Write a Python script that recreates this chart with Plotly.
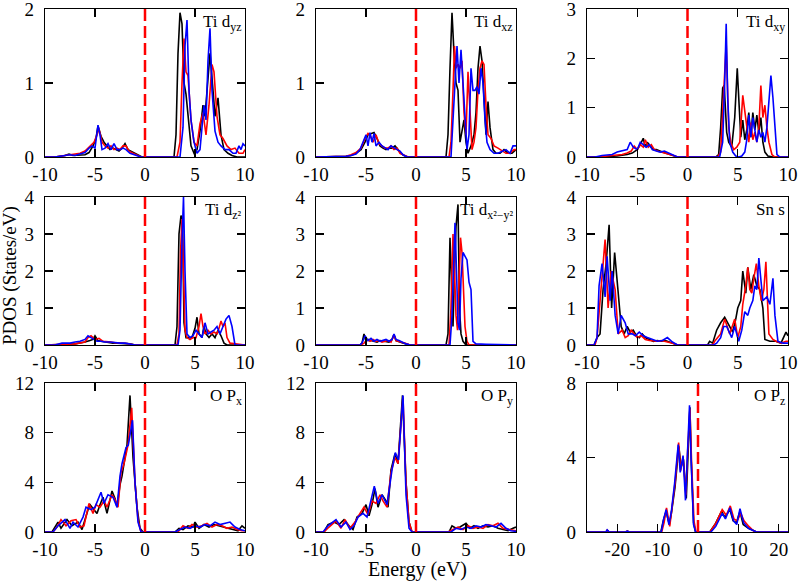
import plotly.graph_objects as go

# ---------------- data (energy in eV, PDOS in States/eV) ----------------
# Panel 1: Ti d_yz
DYZ_E_K = [-10, -9, -8, -7.6, -7.2, -6.5, -6, -5.6, -5.2, -4.9, -4.7, -4.4, -4.1, -3.8, -3.5, -3.2, -2.9, -2.6, -2.3, -2.0, -1.7, -1.4, -1.0, -0.6, -0.3,
           2.9, 3.1, 3.3, 3.5, 3.7, 3.9, 4.1, 4.3, 4.6, 4.9, 5.2, 5.5, 5.8, 6.0, 6.2, 6.5, 6.8, 7.0, 7.3, 7.6, 7.9, 8.3, 8.7, 9.2, 9.6, 10]
DYZ_V_K = [0, 0, 0.02, 0.04, 0.02, 0.02, 0.03, 0.06, 0.15, 0.25, 0.42, 0.28, 0.2, 0.15, 0.1, 0.12, 0.1, 0.08, 0.12, 0.18, 0.1, 0.08, 0.05, 0.02, 0,
           0, 0.3, 1.4, 1.95, 1.8, 1.0, 0.85, 0.6, 0.15, 0.05, 0.1, 0.35, 0.7, 0.55, 0.9, 1.4, 0.9, 0.55, 0.8, 0.3, 0.1, 0.05, 0.02, 0.0, 0.0, 0.0]
DYZ_E_R = [-10, -9, -8, -7.5, -7, -6.5, -6, -5.5, -5.1, -4.8, -4.6, -4.3, -4.0, -3.7, -3.4, -3.1, -2.8, -2.5, -2.2, -1.9, -1.6, -1.2, -0.8, -0.4,
           3.2, 3.5, 3.7, 3.9, 4.1, 4.3, 4.6, 4.9, 5.2, 5.5, 5.8, 6.1, 6.4, 6.7, 6.9, 7.2, 7.5, 7.8, 8.2, 8.6, 9.0, 9.4, 9.8, 10]
DYZ_V_R = [0, 0, 0.02, 0.03, 0.04, 0.05, 0.08, 0.15, 0.2, 0.3, 0.38, 0.2, 0.15, 0.12, 0.15, 0.1, 0.12, 0.1, 0.15, 0.15, 0.08, 0.05, 0.02, 0,
           0, 0.2, 1.0, 1.6, 1.15, 1.1, 0.5, 0.2, 0.15, 0.45, 0.6, 0.3, 0.7, 1.25, 1.15, 0.55, 0.3, 0.25, 0.15, 0.1, 0.12, 0.05, 0.05, 0.1]
DYZ_E_B = [-10, -9, -8, -7.5, -7, -6.5, -6, -5.6, -5.3, -5.0, -4.7, -4.5, -4.3, -4.0, -3.7, -3.4, -3.1, -2.8, -2.5, -2.2, -1.9, -1.5, -1.1, -0.7, -0.4,
           3.5, 3.8, 4.0, 4.2, 4.4, 4.6, 4.9, 5.2, 5.5, 5.7, 5.9, 6.1, 6.3, 6.5, 6.7, 7.0, 7.3, 7.6, 8.0, 8.4, 8.8, 9.1, 9.4, 9.6, 9.8, 10]
DYZ_V_B = [0, 0, 0.02, 0.03, 0.02, 0.04, 0.06, 0.12, 0.15, 0.12, 0.43, 0.3, 0.1, 0.12, 0.18, 0.1, 0.18, 0.1, 0.1, 0.12, 0.1, 0.05, 0.03, 0.01, 0,
           0, 0.4, 1.5, 1.85, 0.9, 0.5, 0.2, 0.05, 0.1, 0.45, 0.7, 0.5, 1.3, 1.74, 0.9, 0.35, 0.2, 0.15, 0.1, 0.1, 0.05, 0.05, 0.15, 0.1, 0.18, 0.15]

# Panel 2: Ti d_xz
DXZ_E_K = [-10, -8, -7, -6.5, -6.0, -5.5, -5.1, -4.8, -4.5, -4.2, -3.9, -3.6, -3.3, -3.0, -2.7, -2.4, -2.1, -1.8, -1.5, -1.2, -0.8,
           3.0, 3.2, 3.4, 3.6, 3.8, 4.0, 4.2, 4.4, 4.6, 4.8, 5.0, 5.2, 5.5, 5.8, 6.0, 6.2, 6.4, 6.6, 6.8, 7.0, 7.2, 7.4, 7.7, 8.0, 8.4, 8.8, 9.2, 9.6, 10]
DXZ_V_K = [0, 0, 0.01, 0.02, 0.05, 0.1, 0.2, 0.3, 0.32, 0.33, 0.25, 0.15, 0.12, 0.1, 0.12, 0.12, 0.15, 0.1, 0.05, 0.02, 0,
           0, 0.3, 1.2, 1.95, 1.4, 1.0, 0.9, 0.2, 0.35, 0.5, 0.2, 0.05, 0.15, 0.3, 0.6, 1.2, 1.5, 1.3, 0.8, 0.3, 0.75, 0.4, 0.1, 0.05, 0.05, 0.1, 0.05, 0.05, 0.1]
DXZ_E_R = [-10, -8, -7, -6.5, -6.0, -5.5, -5.1, -4.8, -4.6, -4.3, -4.0, -3.7, -3.4, -3.1, -2.8, -2.5, -2.2, -1.9, -1.6, -1.2, -0.8,
           3.3, 3.5, 3.7, 3.85, 4.0, 4.2, 4.4, 4.6, 4.8, 5.0, 5.2, 5.4, 5.6, 5.8, 6.0, 6.2, 6.4, 6.6, 6.8, 7.0, 7.2, 7.5, 7.8, 8.2, 8.6, 9.0, 9.4, 9.8, 10]
DXZ_V_R = [0, 0, 0.01, 0.03, 0.06, 0.12, 0.25, 0.32, 0.3, 0.2, 0.3, 0.18, 0.15, 0.12, 0.12, 0.15, 0.1, 0.12, 0.05, 0.02, 0,
           0, 0.2, 0.9, 1.5, 1.2, 1.25, 1.2, 1.3, 0.6, 0.3, 1.15, 0.6, 0.1, 0.2, 0.4, 0.9, 1.2, 1.3, 1.25, 0.7, 0.3, 0.25, 0.15, 0.12, 0.08, 0.05, 0.05, 0.1, 0.1]
DXZ_E_B = [-10, -8, -7, -6.5, -6.0, -5.6, -5.3, -5.0, -4.8, -4.6, -4.4, -4.2, -4.0, -3.7, -3.4, -3.1, -2.8, -2.5, -2.2, -1.9, -1.6, -1.3, -0.9,
           3.5, 3.7, 3.9, 4.1, 4.3, 4.5, 4.7, 4.9, 5.1, 5.3, 5.5, 5.7, 5.9, 6.1, 6.3, 6.5, 6.7, 6.9, 7.1, 7.4, 7.8, 8.2, 8.6, 9.0, 9.4, 9.7, 10]
DXZ_V_B = [0, 0, 0.01, 0.02, 0.04, 0.1, 0.2, 0.3, 0.15, 0.33, 0.2, 0.32, 0.15, 0.2, 0.15, 0.12, 0.1, 0.15, 0.12, 0.1, 0.08, 0.03, 0,
           0, 0.5, 1.0, 1.5, 1.0, 1.45, 1.0, 0.5, 0.1, 0.3, 1.2, 0.9, 0.9, 0.95, 0.85, 1.2, 1.0, 0.5, 0.2, 0.1, 0.05, 0.05, 0.08, 0.1, 0.05, 0.15, 0.15]

# Panel 3: Ti d_xy
DXY_E_K = [-10, -9, -8, -7, -6.5, -6, -5.5, -5, -4.7, -4.4, -4.2, -4.0, -3.7, -3.4, -3.1, -2.8, -2.5, -2.2, -1.9, -1.5, -1.0,
           2.8, 3.1, 3.3, 3.5, 3.65, 3.9, 4.1, 4.4, 4.7, 4.95, 5.15, 5.3, 5.5, 5.7, 5.9, 6.1, 6.3, 6.5, 6.7, 6.9, 7.1, 7.3, 7.5, 7.7, 8.0, 8.5, 9, 10]
DXY_V_K = [0, 0, 0.01, 0.02, 0.03, 0.05, 0.08, 0.15, 0.25, 0.38, 0.2, 0.3, 0.22, 0.15, 0.15, 0.12, 0.1, 0.08, 0.06, 0.03, 0,
           0, 0.05, 0.6, 1.4, 1.45, 0.5, 0.3, 0.2, 0.8, 1.8, 1.0, 0.4, 0.75, 0.35, 0.55, 0.9, 0.4, 0.9, 0.55, 0.85, 0.5, 0.8, 0.3, 0.1, 0.02, 0, 0, 0]
DXY_E_R = [-10, -9, -8, -7, -6.5, -6, -5.6, -5.3, -5.0, -4.7, -4.4, -4.2, -3.9, -3.6, -3.3, -3.0, -2.6, -2.2, -1.8, -1.4, -1.0,
           3.0, 3.3, 3.5, 3.65, 3.85, 4.1, 4.3, 4.6, 4.9, 5.2, 5.5, 5.7, 5.9, 6.1, 6.3, 6.5, 6.7, 6.9, 7.1, 7.3, 7.5, 7.7, 7.9, 8.1, 8.4, 8.7, 10]
DXY_V_R = [0, 0, 0.02, 0.04, 0.05, 0.08, 0.12, 0.22, 0.15, 0.25, 0.2, 0.35, 0.2, 0.25, 0.15, 0.12, 0.1, 0.08, 0.06, 0.03, 0,
           0, 0.1, 0.8, 1.5, 2.3, 0.6, 0.3, 0.15, 0.2, 0.3, 1.25, 0.9, 0.6, 0.3, 0.7, 0.35, 0.5, 0.3, 0.6, 1.45, 0.8, 1.05, 0.6, 0.3, 0.05, 0, 0]
DXY_E_B = [-10, -9.2, -8.5, -7.5, -7, -6.5, -6.0, -5.7, -5.4, -5.0, -4.7, -4.4, -4.1, -3.8, -3.5, -3.1, -2.7, -2.3, -1.9, -1.5, -1.0,
           3.2, 3.5, 3.7, 3.85, 4.0, 4.2, 4.5, 4.8, 5.1, 5.4, 5.7, 5.9, 6.1, 6.3, 6.5, 6.7, 6.9, 7.1, 7.3, 7.5, 7.7, 7.9, 8.1, 8.3, 8.5, 8.7, 8.9, 9.2, 10]
DXY_V_B = [0, 0, 0.03, 0.05, 0.1, 0.12, 0.15, 0.3, 0.2, 0.15, 0.3, 0.25, 0.2, 0.25, 0.15, 0.12, 0.1, 0.12, 0.08, 0.05, 0,
           0, 0.3, 1.5, 2.7, 1.2, 0.3, 0.1, 0.02, 0, 0.02, 0.1, 0.35, 0.85, 0.4, 0.8, 0.5, 0.3, 0.55, 0.4, 0.5, 0.3, 0.6, 1.1, 1.65, 1.2, 0.6, 0.05, 0, 0]

# Panel 4: Ti d_z2
DZ2_E_K = [-10, -9, -8, -7, -6.5, -6, -5.5, -5.2, -5.0, -4.7, -4.4, -4.0, -3.6, -3.2, -2.8, -2.4, -2.0, -1.5, -1.0,
           3.0, 3.2, 3.4, 3.6, 3.75, 3.9, 4.1, 4.4, 4.7, 5.0, 5.2, 5.4, 5.7, 5.9, 6.1, 6.4, 6.7, 7.0, 7.3, 7.6, 7.9, 8.2, 10]
DZ2_V_K = [0, 0, 0.02, 0.03, 0.05, 0.08, 0.12, 0.15, 0.25, 0.12, 0.1, 0.08, 0.06, 0.05, 0.05, 0.04, 0.05, 0.03, 0,
           0, 0.5, 3.0, 3.5, 3.4, 0.6, 0.2, 0.2, 0.2, 0.45, 0.75, 0.3, 0.2, 0.5, 0.3, 0.2, 0.3, 0.2, 0.4, 0.25, 0.05, 0, 0]
DZ2_E_R = [-10, -9, -8, -7, -6.5, -6, -5.7, -5.4, -5.0, -4.6, -4.2, -3.8, -3.4, -3.0, -2.6, -2.2, -1.8, -1.4, -1.0,
           3.2, 3.4, 3.55, 3.7, 3.85, 4.0, 4.2, 4.5, 4.8, 5.1, 5.4, 5.6, 5.8, 6.0, 6.3, 6.6, 6.9, 7.2, 7.4, 7.6, 7.8, 8.0, 8.2, 8.5, 10]
DZ2_V_R = [0, 0, 0.02, 0.03, 0.05, 0.08, 0.2, 0.25, 0.15, 0.18, 0.1, 0.1, 0.08, 0.06, 0.06, 0.05, 0.04, 0.02, 0,
           0, 0.3, 2.5, 3.4, 2.0, 0.4, 0.2, 0.15, 0.2, 0.2, 0.5, 0.85, 0.5, 0.3, 0.4, 0.3, 0.35, 0.3, 0.45, 0.65, 0.5, 0.6, 0.2, 0.05, 0]
DZ2_E_B = [-10, -9, -8.3, -7.5, -7, -6.5, -6.0, -5.7, -5.4, -5.1, -4.8, -4.4, -4.0, -3.5, -3.0, -2.5, -2.0, -1.5, -1.0,
           3.3, 3.5, 3.7, 3.85, 4.0, 4.2, 4.5, 4.8, 5.1, 5.4, 5.7, 6.0, 6.3, 6.6, 6.9, 7.2, 7.5, 7.8, 8.1, 8.4, 8.7, 9.0, 10]
DZ2_V_B = [0, 0, 0.05, 0.05, 0.08, 0.1, 0.15, 0.25, 0.2, 0.15, 0.1, 0.1, 0.08, 0.08, 0.06, 0.05, 0.05, 0.03, 0,
           0, 0.4, 2.8, 4.0, 2.0, 0.3, 0.2, 0.25, 0.4, 0.3, 0.2, 0.6, 0.3, 0.35, 0.4, 0.5, 0.3, 0.5, 0.7, 0.8, 0.5, 0, 0]

# Panel 5: Ti d_x2-y2
DX2_E_K = [-10, -5.6, -5.4, -5.2, -5.0, -4.8, -4.5, -4.2, -3.9, -3.6, -3.3, -3.0, -2.7, -2.4, -2.2, -2.0, -1.7, -1.4, -1.0, -0.6,
           3.0, 3.2, 3.4, 3.55, 3.7, 3.85, 4.0, 4.2, 4.35, 4.5, 4.7, 5.0, 10]
DX2_V_K = [0, 0, 0.05, 0.3, 0.1, 0.15, 0.12, 0.1, 0.08, 0.12, 0.1, 0.1, 0.08, 0.15, 0.28, 0.12, 0.1, 0.06, 0.03, 0,
           0, 0.3, 2.9, 1.5, 0.5, 2.0, 3.2, 3.8, 1.0, 0.3, 0.1, 0, 0]
DX2_E_R = [-10, -5.5, -5.2, -4.9, -4.6, -4.3, -4.0, -3.7, -3.4, -3.1, -2.8, -2.5, -2.2, -2.0, -1.7, -1.4, -1.0, -0.6,
           3.3, 3.5, 3.7, 3.85, 4.0, 4.15, 4.3, 4.45, 4.6, 4.75, 4.9, 5.1, 5.3, 10]
DX2_V_R = [0, 0, 0.05, 0.15, 0.1, 0.15, 0.1, 0.12, 0.08, 0.1, 0.12, 0.08, 0.28, 0.12, 0.1, 0.08, 0.04, 0,
           0, 1.0, 3.0, 2.0, 0.8, 0.4, 1.5, 2.9, 2.5, 1.5, 0.5, 0.1, 0, 0]
DX2_E_B = [-10, -5.6, -5.4, -5.1, -4.8, -4.5, -4.2, -3.9, -3.6, -3.3, -3.0, -2.7, -2.4, -2.2, -2.0, -1.7, -1.4, -1.0, -0.6,
           3.4, 3.6, 3.8, 3.9, 4.05, 4.2, 4.35, 4.5, 4.7, 4.9, 5.1, 5.3, 5.5, 5.7, 6.0, 7.0, 10]
DX2_V_B = [0, 0, 0.05, 0.25, 0.12, 0.18, 0.1, 0.15, 0.1, 0.12, 0.15, 0.1, 0.15, 0.3, 0.15, 0.12, 0.08, 0.03, 0,
           0, 0.8, 2.5, 3.3, 2.0, 0.6, 0.4, 1.8, 2.5, 2.4, 2.3, 1.7, 1.5, 0.1, 0.03, 0.02, 0]

# Panel 6: Sn s
SNS_E_K = [-10, -9.3, -9.0, -8.7, -8.4, -8.1, -7.8, -7.55, -7.25, -6.9, -6.6, -6.3, -6.0, -5.7, -5.4, -5.1, -4.8, -4.5, -4.2, -3.8, -3.4, -3.0, -2.6, -2.2, -1.8, -1.4, -1.0,
           2.0, 2.2, 2.5, 2.9, 3.3, 3.7, 4.0, 4.2, 4.5, 4.8, 5.0, 5.3, 5.5, 5.8, 6.0, 6.3, 6.6, 6.9, 7.2, 7.5, 7.7, 8.2, 8.8, 9.3, 9.8, 10]
SNS_V_K = [0, 0, 0.2, 0.3, 1.5, 2.2, 3.25, 1.0, 2.5, 1.3, 0.5, 0.3, 0.5, 0.35, 0.4, 0.25, 0.2, 0.3, 0.2, 0.15, 0.1, 0.12, 0.1, 0.12, 0.08, 0.05, 0,
           0, 0.1, 0.05, 0.4, 0.6, 0.75, 0.6, 0.5, 0.35, 0.7, 1.0, 1.2, 2.0, 1.4, 2.1, 1.5, 1.9, 1.6, 1.5, 1.0, 0.15, 0.1, 0.1, 0.05, 0.35, 0.25]
SNS_E_R = [-10, -9.2, -9.0, -8.6, -8.4, -8.2, -7.9, -7.6, -7.2, -6.9, -6.5, -6.2, -5.9, -5.6, -5.3, -5.0, -4.6, -4.2, -3.8, -3.4, -3.0, -2.6, -2.2, -1.8, -1.4, -1.0,
           2.5, 2.7, 3.0, 3.3, 3.7, 4.2, 4.7, 5.0, 5.3, 5.5, 5.8, 6.0, 6.2, 6.4, 6.6, 6.85, 7.1, 7.35, 7.6, 7.8, 8.1, 8.5, 8.8, 9.3, 9.8, 10]
SNS_V_R = [0, 0, 0.2, 1.5, 2.2, 2.85, 1.0, 2.0, 1.5, 0.3, 0.4, 0.2, 0.25, 0.4, 0.3, 0.2, 0.25, 0.15, 0.12, 0.1, 0.1, 0.12, 0.1, 0.08, 0.04, 0,
           0, 0.1, 0.2, 0.3, 0.7, 0.3, 0.7, 0.2, 0.5, 1.1, 1.6, 2.1, 1.5, 1.4, 1.8, 2.2, 1.6, 1.2, 1.5, 2.25, 0.3, 0.15, 0.1, 0.05, 0.1, 0.1]
SNS_E_B = [-10, -9.3, -9.0, -8.8, -8.5, -8.2, -8.0, -7.7, -7.5, -7.2, -6.9, -6.6, -6.2, -5.9, -5.5, -5.2, -4.8, -4.4, -4.0, -3.5, -3.0, -2.5, -2.0, -1.5, -1.0,
           2.6, 2.9, 3.3, 3.6, 3.9, 4.4, 4.7, 5.1, 5.4, 5.7, 6.0, 6.2, 6.5, 6.7, 6.9, 7.1, 7.5, 7.9, 8.2, 8.5, 8.7, 9.0, 9.5, 10]
SNS_V_B = [0, 0, 0.2, 1.6, 2.2, 1.3, 2.4, 1.2, 2.0, 0.8, 0.3, 0.8, 0.6, 0.3, 0.3, 0.25, 0.35, 0.25, 0.2, 0.15, 0.1, 0.12, 0.2, 0.08, 0,
           0, 0.05, 0.2, 0.5, 0.5, 0.2, 0.5, 0.1, 0.4, 0.9, 0.8, 1.0, 1.2, 1.6, 1.5, 2.35, 1.2, 1.3, 1.1, 1.8, 0.8, 0.1, 0.05, 0.05]

# Panel 7: O p_x
OPX_E_K = [-10, -9.3, -8.7, -8.4, -7.8, -7.3, -6.7, -6.3, -5.7, -5.5, -5.1, -4.8, -4.5, -4.2, -3.8, -3.5, -3.3, -3.0, -2.8, -2.5, -2.3, -2.1, -1.8, -1.5, -1.2, -0.8, -0.5, -0.2,
           3.0, 3.4, 3.8, 4.3, 4.8, 5.0, 5.4, 5.9, 6.4, 6.9, 7.3, 7.8, 8.3, 8.8, 9.3, 9.7, 10]
OPX_V_K = [0, 0, 0.8, 0.3, 1.0, 0.5, 0.8, 0.2, 1.8, 2.2, 1.8, 1.5, 2.2, 2.8, 1.5, 2.5, 3.3, 2.7, 2.0, 3.8, 4.5, 5.5, 7.0, 11.0, 6.0, 2.0, 0.3, 0,
           0, 0.3, 0.2, 0.5, 0.4, 0.8, 0.3, 0.6, 0.4, 0.6, 0.5, 0.4, 0.3, 0.2, 0.1, 0.5, 0.3]
OPX_E_R = [-10, -9.2, -8.8, -8.4, -7.9, -7.4, -6.9, -6.5, -6.1, -5.6, -5.2, -4.9, -4.5, -4.1, -3.8, -3.3, -3.0, -2.7, -2.4, -2.1, -1.7, -1.33, -1.0, -0.7, -0.4,
           3.3, 3.8, 4.3, 4.7, 5.2, 5.7, 6.2, 6.7, 7.2, 7.7, 8.2, 8.7, 9.2, 9.7, 10]
OPX_V_R = [0, 0, 0.4, 1.0, 0.5, 0.9, 1.0, 0.4, 0.5, 2.3, 1.5, 2.2, 2.0, 2.5, 2.0, 3.0, 2.6, 2.0, 4.8, 5.5, 7.0, 10.0, 4.0, 1.0, 0,
           0, 0.5, 0.3, 0.6, 0.4, 0.5, 0.7, 0.4, 0.6, 0.5, 0.3, 0.4, 0.2, 0.1, 0.1]
OPX_E_B = [-10, -9.2, -8.7, -8.0, -7.5, -7.2, -6.7, -6.2, -5.9, -5.4, -5.0, -4.4, -4.1, -3.7, -3.2, -2.8, -2.5, -2.3, -1.9, -1.67, -1.25, -1.0, -0.7, -0.4,
           3.0, 3.5, 4.0, 4.5, 5.0, 5.5, 6.0, 6.5, 7.0, 7.5, 8.0, 8.5, 9.0, 9.5, 10]
OPX_V_B = [0, 0, 0.5, 1.0, 0.3, 0.8, 0.4, 1.2, 2.0, 1.8, 2.0, 3.2, 2.3, 3.0, 2.8, 2.0, 4.5, 5.5, 6.8, 7.0, 9.0, 4.0, 0.8, 0,
           0, 0.2, 0.4, 0.3, 0.5, 0.4, 0.6, 0.5, 0.8, 0.6, 0.7, 0.8, 0.4, 0.2, 0.1]

# Panel 8: O p_y
OPY_E_K = [-10, -9.2, -8.8, -8.2, -7.7, -7.2, -6.7, -6.3, -5.9, -5.4, -5.0, -4.7, -4.4, -4.1, -3.8, -3.4, -3.0, -2.8, -2.5, -2.1, -1.8, -1.35, -1.0, -0.7, -0.4,
           3.3, 3.6, 4.0, 4.4, 5.0, 5.4, 5.8, 6.2, 6.7, 7.2, 7.7, 8.2, 8.7, 9.2, 9.7, 10]
OPY_V_K = [0, 0, 0.6, 0.8, 0.6, 1.0, 0.5, 0.2, 1.2, 1.5, 2.2, 1.3, 2.2, 3.5, 2.0, 3.0, 2.5, 2.0, 5.0, 6.3, 5.5, 11.0, 4.0, 0.8, 0,
           0, 0.5, 0.3, 0.4, 0.7, 0.3, 0.5, 0.3, 0.5, 0.4, 0.5, 0.3, 0.2, 0.1, 0.3, 0.4]
OPY_E_R = [-10, -9.2, -8.7, -8.0, -7.5, -7.1, -6.6, -6.1, -5.6, -5.2, -4.8, -4.4, -4.0, -3.6, -3.3, -2.9, -2.5, -2.1, -1.8, -1.3, -1.0, -0.7, -0.4,
           3.2, 3.7, 4.2, 4.7, 5.2, 5.7, 6.2, 6.7, 7.2, 7.7, 8.2, 8.7, 9.2, 9.7, 10]
OPY_V_R = [0, 0, 0.4, 0.9, 0.3, 1.0, 0.3, 0.8, 1.5, 2.0, 1.4, 2.5, 2.3, 3.0, 2.5, 2.0, 4.8, 6.0, 5.5, 10.8, 4.0, 0.8, 0,
           0, 0.2, 0.4, 0.2, 0.5, 0.3, 0.4, 0.3, 0.6, 0.5, 0.7, 0.3, 0.2, 0.1, 0.1]
OPY_E_B = [-10, -9.3, -8.8, -8.0, -7.5, -7.0, -6.6, -6.2, -5.8, -5.3, -4.9, -4.5, -4.17, -3.8, -3.4, -2.9, -2.4, -2.07, -1.75, -1.3, -1.0, -0.7, -0.4,
           3.5, 4.0, 4.5, 5.0, 5.5, 6.0, 6.5, 7.0, 7.5, 8.0, 8.5, 9.0, 9.5, 10]
OPY_V_B = [0, 0, 0.5, 1.0, 0.4, 0.8, 0.2, 0.5, 1.2, 1.5, 1.2, 2.6, 3.7, 2.3, 3.0, 2.2, 5.0, 6.4, 5.8, 11.0, 3.0, 0.3, 0,
           0, 0.3, 0.2, 0.4, 0.3, 0.5, 0.4, 0.6, 0.5, 0.4, 0.7, 0.3, 0.1, 0.05]

# Panel 9: O p_z
OPZ_E_K = [-27.5, -22.8, -22.5, -22.0, -18.0, -17.5, -17.0, -9.2, -8.6, -7.9, -7.1, -6.6, -5.7, -4.75, -4.2, -3.6, -2.9, -2.5, -2.0, -1.7, -1.1, -0.6,
           2.9, 4.2, 5.2, 5.8, 6.7, 7.9, 8.7, 9.5, 10.4, 11.2, 12.5, 13.9, 14.5, 22.3]
OPZ_V_K = [0, 0, 0.08, 0, 0, 0.04, 0, 0, 0.6, 1.1, 0.4, 1.0, 2.4, 4.6, 3.5, 3.9, 1.8, 4.3, 6.7, 4.0, 0.5, 0,
           0, 0.4, 0.8, 1.1, 0.8, 1.2, 0.6, 0.5, 1.1, 0.4, 0.2, 0.05, 0, 0]
OPZ_E_R = [-27.5, -22.8, -22.5, -22.0, -18.0, -17.5, -17.0, -9.0, -8.4, -7.8, -7.0, -6.5, -5.6, -4.8, -4.3, -3.7, -3.0, -2.6, -2.0, -1.6, -1.0, -0.5,
           3.0, 4.5, 5.4, 6.0, 7.0, 8.0, 8.9, 9.7, 10.6, 11.4, 12.6, 13.8, 14.5, 22.3]
OPZ_V_R = [0, 0, 0.1, 0, 0, 0.05, 0, 0, 0.5, 1.3, 0.3, 1.2, 2.8, 4.8, 3.3, 4.0, 2.0, 4.2, 6.6, 3.8, 0.6, 0,
           0, 0.5, 0.9, 1.2, 0.9, 1.4, 0.7, 0.6, 1.0, 0.6, 0.3, 0.05, 0, 0]
OPZ_E_B = [-27.5, -22.8, -22.5, -22.0, -18.0, -17.5, -17.0, -9.1, -8.5, -7.9, -7.2, -6.6, -5.8, -4.9, -4.4, -3.7, -3.1, -2.6, -2.1, -1.7, -1.1, -0.6,
           3.2, 4.4, 5.3, 6.0, 6.8, 7.9, 8.8, 9.6, 10.4, 11.3, 12.5, 13.8, 14.5, 22.3]
OPZ_V_B = [0, 0, 0.12, 0, 0, 0.05, 0, 0, 0.7, 1.2, 0.4, 1.1, 2.6, 4.7, 3.2, 4.1, 1.7, 4.4, 6.8, 3.9, 0.4, 0,
           0, 0.3, 0.7, 1.0, 0.7, 1.3, 0.6, 0.4, 1.25, 0.5, 0.2, 0.05, 0, 0]

PANEL_LABELS = ["Ti d<sub>yz</sub>", "Ti d<sub>xz</sub>", "Ti d<sub>xy</sub>",
                "Ti d<sub>z²</sub>", "Ti d<sub>x²−y²</sub>", "Sn s",
                "O P<sub>x</sub>", "O P<sub>y</sub>", "O P<sub>z</sub>"]
Y_MAX = [2, 2, 3, 4, 4, 4, 12, 12, 8]
Y_TICKS = [[0, 1, 2], [0, 1, 2], [0, 1, 2, 3],
           [0, 1, 2, 3, 4], [0, 1, 2, 3, 4], [0, 1, 2, 3, 4],
           [0, 4, 8, 12], [0, 4, 8, 12], [0, 4, 8]]
X_RANGE = [[-10, 10]] * 8 + [[-27.5, 22.3]]
X_TICKS = [[-10, -5, 0, 5, 10]] * 8 + [[-20, -10, 0, 10, 20]]
FERMI = 0

SERIES = [
    [(DYZ_E_K, DYZ_V_K), (DYZ_E_R, DYZ_V_R), (DYZ_E_B, DYZ_V_B)],
    [(DXZ_E_K, DXZ_V_K), (DXZ_E_R, DXZ_V_R), (DXZ_E_B, DXZ_V_B)],
    [(DXY_E_K, DXY_V_K), (DXY_E_R, DXY_V_R), (DXY_E_B, DXY_V_B)],
    [(DZ2_E_K, DZ2_V_K), (DZ2_E_R, DZ2_V_R), (DZ2_E_B, DZ2_V_B)],
    [(DX2_E_K, DX2_V_K), (DX2_E_R, DX2_V_R), (DX2_E_B, DX2_V_B)],
    [(SNS_E_K, SNS_V_K), (SNS_E_R, SNS_V_R), (SNS_E_B, SNS_V_B)],
    [(OPX_E_K, OPX_V_K), (OPX_E_R, OPX_V_R), (OPX_E_B, OPX_V_B)],
    [(OPY_E_K, OPY_V_K), (OPY_E_R, OPY_V_R), (OPY_E_B, OPY_V_B)],
    [(OPZ_E_K, OPZ_V_K), (OPZ_E_R, OPZ_V_R), (OPZ_E_B, OPZ_V_B)],
]
COLORS = ["#000000", "#ff0000", "#0000ff"]

# ---------------- layout geometry ----------------
W, H = 800, 582
COL_PX = [(45, 245), (316, 516), (587, 788)]
ROW_PX = [(9, 157), (197, 345), (383, 532)]
FONT = "Liberation Serif"

fig = go.Figure()
layout = dict(template="none", width=W, height=H, margin=dict(l=0, r=0, t=0, b=0, autoexpand=False),
              paper_bgcolor="white", plot_bgcolor="white", showlegend=False,
              font=dict(family=FONT, color="black", size=19))
annotations = []
shapes = []

for i in range(9):
    r, c = divmod(i, 3)
    sfx = "" if i == 0 else str(i + 1)
    xa, ya = "x" + sfx, "y" + sfx
    for (e, v), col in zip(SERIES[i], COLORS):
        fig.add_trace(go.Scatter(x=e, y=v, mode="lines", xaxis=xa, yaxis=ya,
                                 line=dict(color=col, width=1.6), hoverinfo="skip"))
    x0, x1 = COL_PX[c]
    y0, y1 = ROW_PX[r]
    common = dict(showline=True, linecolor="black", linewidth=1.3, mirror="ticks",
                  ticks="inside", ticklen=8, tickwidth=1.3, tickcolor="black", automargin=False,
                  ticklabeloverflow="allow",
                  showgrid=False, zeroline=False, tickfont=dict(family=FONT, size=19, color="black"))
    layout["xaxis" + sfx] = dict(domain=[x0 / W, x1 / W], anchor=ya, range=X_RANGE[i],
                                 tickmode="array", tickvals=X_TICKS[i],
                                 ticktext=[str(t) for t in X_TICKS[i]],
                                 ticklabelstandoff=0, **common)
    layout["yaxis" + sfx] = dict(domain=[1 - y1 / H, 1 - y0 / H], anchor=xa, range=[0, Y_MAX[i]],
                                 tickmode="array", tickvals=Y_TICKS[i],
                                 ticktext=[str(t) for t in Y_TICKS[i]],
                                 ticklabelstandoff=6, **common)
    shapes.append(dict(type="line", xref=xa, x0=FERMI, x1=FERMI, yref=ya + " domain", y0=0, y1=1,
                       line=dict(color="#ff0000", width=2.5, dash="12px,5px"), layer="above"))
    annotations.append(dict(text=PANEL_LABELS[i], xref=xa + " domain", yref=ya + " domain",
                            x=0.995, y=0.99, xanchor="right", yanchor="top", showarrow=False,
                            font=dict(family=FONT, size=17, color="black")))

annotations.append(dict(text="PDOS (States/eV)", xref="paper", yref="paper", x=10 / W, y=1 - 276 / H,
                        textangle=-90, showarrow=False, xanchor="center", yanchor="middle",
                        font=dict(family=FONT, size=19, color="black")))
annotations.append(dict(text="Energy (eV)", xref="paper", yref="paper", x=417 / W, y=1 - 569 / H,
                        showarrow=False, xanchor="center", yanchor="middle",
                        font=dict(family=FONT, size=20, color="black")))
layout["annotations"] = annotations
layout["shapes"] = shapes
fig.update_layout(**layout)
fig.write_html("out.html", config={"displayModeBar": False, "staticPlot": True},
               post_script="document.body.style.margin='0';document.body.style.overflow='hidden';")
